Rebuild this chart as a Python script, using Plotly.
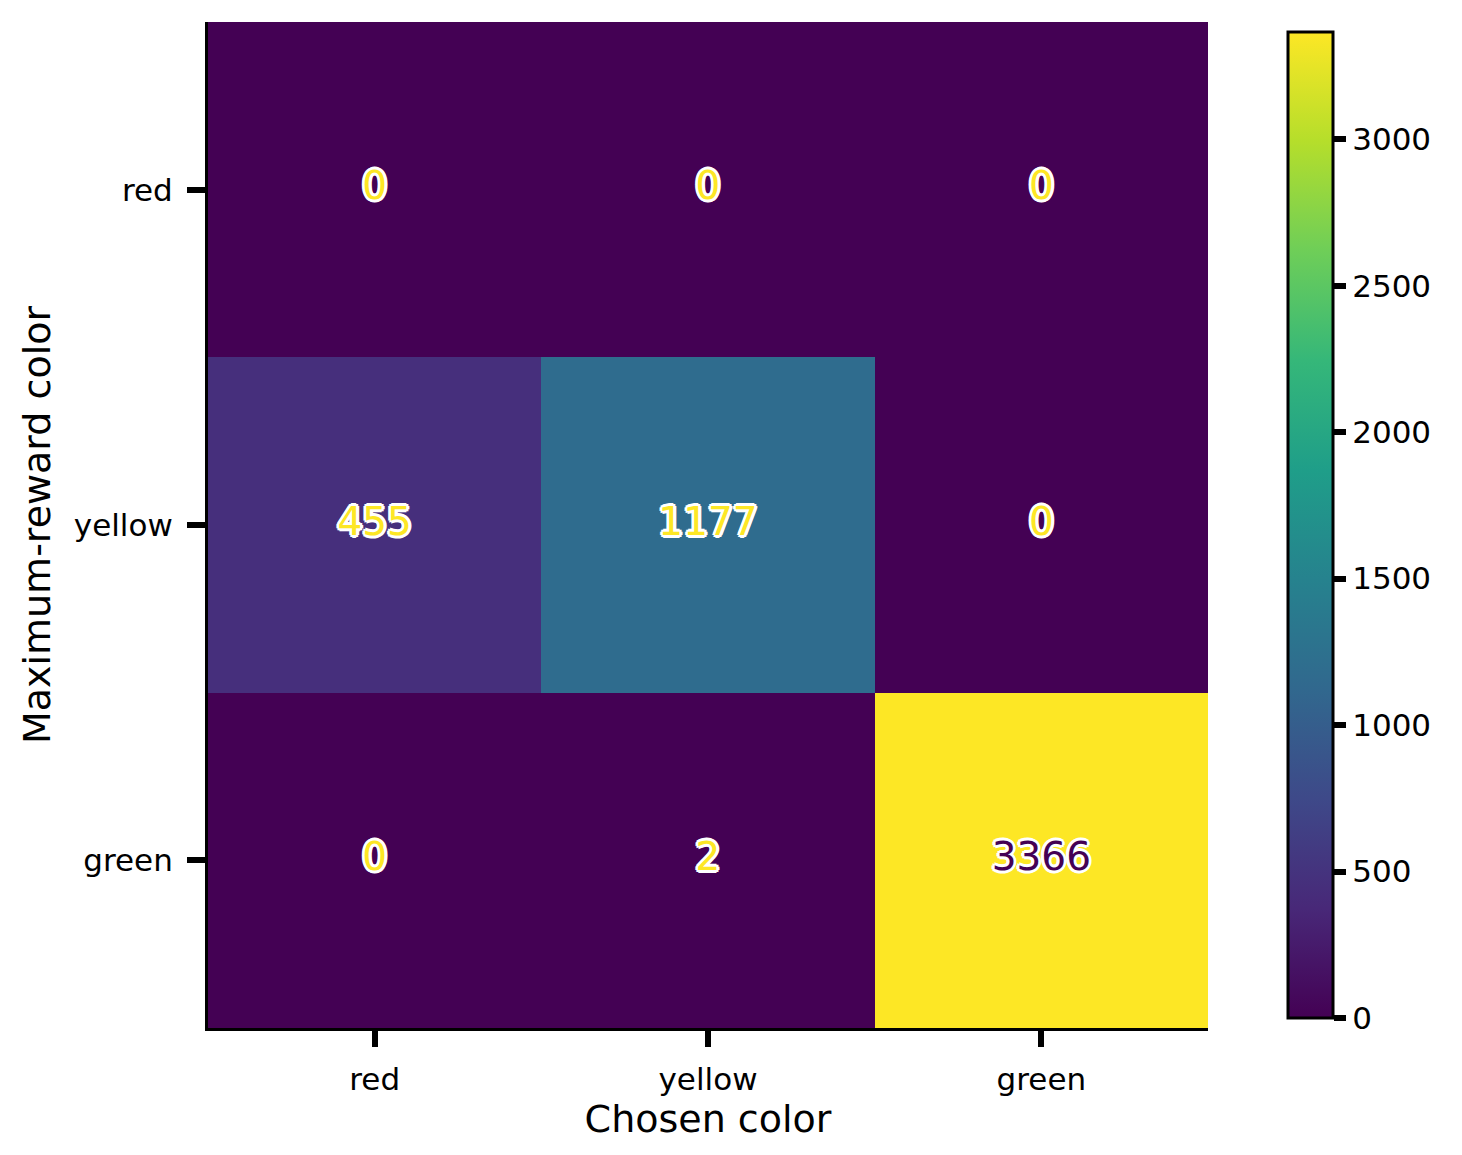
import plotly.graph_objects as go

cats = ["red", "yellow", "green"]
values = [[0, 0, 0],
          [455, 1177, 0],
          [0, 2, 3366]]

F = "DejaVu Sans"
fig = go.Figure()
fig.add_trace(go.Heatmap(
    z=values, x=cats, y=cats, colorscale="Viridis", zmin=0, zmax=3366,
    showscale=True,
    colorbar=dict(thickness=45, len=1.0, lenmode="fraction", y=0.5, yanchor="middle",
                  x=1.07, xanchor="left", outlinewidth=3, outlinecolor="black",
                  tickvals=[0, 500, 1000, 1500, 2000, 2500, 3000],
                  ticks="outside", ticklen=12, tickwidth=6, tickcolor="black",
                  tickfont=dict(size=31, family=F, color="black")),
    hoverinfo="skip"))

sh = ", ".join(f"white {dx}px {dy}px 0px" for dx, dy in
               [(3, 0), (-3, 0), (0, 3), (0, -3), (2, 2), (-2, -2), (2, -2), (-2, 2)])
xs, ys, ts, cs = [], [], [], []
for i, r in enumerate(cats):
    for j, c in enumerate(cats):
        v = values[i][j]
        xs.append(c); ys.append(r); ts.append(str(v))
        cs.append("#440154" if v > 1683 else "#fde725")
fig.add_trace(go.Scatter(x=xs, y=ys, mode="text", text=ts, hoverinfo="skip",
                         textfont=dict(size=39, family=F, color=cs, shadow=sh),
                         showlegend=False))

fig.update_xaxes(title=dict(text="Chosen color", font=dict(size=38, family=F, color="black"), standoff=10),
                 tickfont=dict(size=31, family=F, color="black"),
                 ticks="outside", ticklen=16, tickwidth=6, tickcolor="black", ticklabelstandoff=6,
                 showline=True, linecolor="black", linewidth=3,
                 showgrid=False, zeroline=False, categoryorder="array", categoryarray=cats)
fig.update_yaxes(title=dict(text="Maximum-reward color", font=dict(size=38, family=F, color="black"), standoff=12),
                 tickfont=dict(size=31, family=F, color="black"),
                 ticks="outside", ticklen=18, tickwidth=6, tickcolor="black", ticklabelstandoff=8,
                 showline=True, linecolor="black", linewidth=3,
                 showgrid=False, zeroline=False, autorange="reversed",
                 categoryorder="array", categoryarray=cats)
fig.update_layout(width=1462, height=1155, plot_bgcolor="white", paper_bgcolor="white",
                  margin=dict(l=200, r=262, t=14, b=135), showlegend=False)
fig.write_html("out.html")
